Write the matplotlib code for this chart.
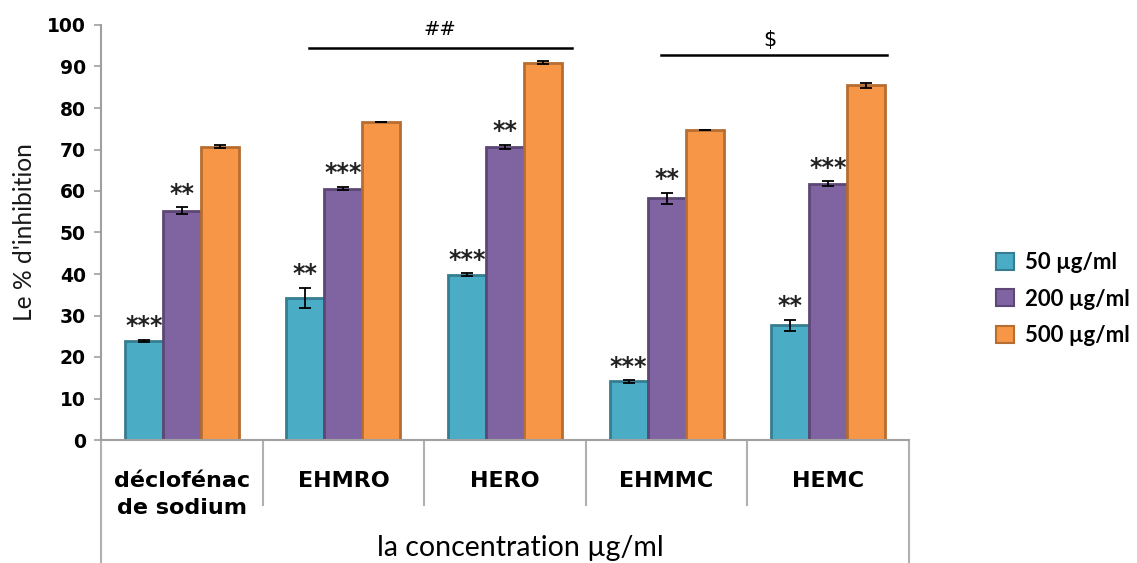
import matplotlib
matplotlib.use("Agg")
import matplotlib.pyplot as plt
import numpy as np
from matplotlib.patches import Patch
from matplotlib.lines import Line2D

categories = ["déclofénac\nde sodium", "EHMRO", "HERO", "EHMMC", "HEMC"]
series_names = ["50 µg/ml", "200 µg/ml", "500 µg/ml"]
v50 = [23.9, 34.3, 39.8, 14.1, 27.6]
v200 = [55.3, 60.6, 70.7, 58.2, 61.8]
v500 = [70.7, 76.6, 90.9, 74.7, 85.5]
e50 = [0.3, 2.4, 0.4, 0.3, 1.4]
e200 = [0.8, 0.4, 0.5, 1.4, 0.5]
e500 = [0.3, 0.0, 0.4, 0.1, 0.6]
s50 = ["***", "**", "***", "***", "**"]
s200 = ["**", "***", "**", "**", "***"]
s500 = ["", "", "", "", ""]
yticks = [0, 10, 20, 30, 40, 50, 60, 70, 80, 90, 100]

faces = ["#4BACC6", "#8064A2", "#F79646"]
edges = ["#357D91", "#5C4776", "#B66D31"]

fig = plt.figure(figsize=(11.37, 5.63), dpi=100)
ax = fig.add_axes([101/1137, 1-440/563, 808/1137, 415/563])

x = np.arange(len(categories))
w = 0.235
vals = [v50, v200, v500]
errs = [e50, e200, e500]
stars = [s50, s200, s500]
for i in range(3):
    xs = x + (i-1)*w
    ax.bar(xs, vals[i], w, color=faces[i], edgecolor=edges[i], linewidth=2.0, zorder=2)
    ax.errorbar(xs, vals[i], yerr=errs[i], fmt='none', ecolor='black',
                elinewidth=1.3, capsize=4, capthick=1.3, zorder=3)
    for xx, v, e, s in zip(xs, vals[i], errs[i], stars[i]):
        if s:
            ax.annotate(s, (xx, v+e), xytext=(0, 1), textcoords='offset points',
                        ha='center', va='bottom', fontsize=17, fontweight='bold',
                        color='#222222')

ax.set_xlim(-0.5, len(categories)-0.5)
ax.set_ylim(0, 100)
ax.set_yticks(yticks)
ax.set_yticklabels([str(t) for t in yticks], fontsize=13.5, fontweight='bold',
                   family='DejaVu Sans')
ax.tick_params(axis='y', length=5, color='#A0A0A0', width=1.2, pad=6)
ax.set_xticks(x)
ax.set_xticklabels(categories, fontsize=16, fontweight='bold', family='DejaVu Sans',
                   linespacing=1.45)
ax.tick_params(axis='x', length=0, pad=22)
for sp in ['top', 'right']:
    ax.spines[sp].set_visible(False)
for sp in ['left', 'bottom']:
    ax.spines[sp].set_color('#A0A0A0')
    ax.spines[sp].set_linewidth(1.5)

trans = ax.get_xaxis_transform()
for b in np.arange(len(categories)+1) - 0.5:
    ybot = -0.296 if b in (-0.5, len(categories)-0.5) else -0.157
    ax.add_line(Line2D([b, b], [0, ybot], transform=trans, color='#B0B0B0',
                       linewidth=1.5, clip_on=False))

# significance bars
ax.plot([0.787, 2.415], [94.5, 94.5], color='black', linewidth=1.8, clip_on=False)
ax.text(1.60, 98.8, "##", ha='center', va='center', fontsize=14, family='DejaVu Sans')
ax.plot([2.965, 4.364], [92.8, 92.8], color='black', linewidth=1.8, clip_on=False)
ax.text(3.64, 96.4, "$", ha='center', va='center', fontsize=15, family='DejaVu Sans')

fig.text(25/1137, 1-232/563, "Le % d'inhibition", rotation=90, ha='center', va='center',
         fontsize=17.7, family='Lato', color='#1a1a1a')
fig.text(520/1137, 1-548/563, "la concentration µg/ml", ha='center', va='center',
         fontsize=20.5, family='Lato', color='black')

handles = [Patch(facecolor=faces[i], edgecolor=edges[i], linewidth=1.5) for i in range(3)]
leg = fig.legend(handles, series_names, loc='center left', bbox_to_anchor=(996/1137, 1-299/563),
                 frameon=False, prop={'family': 'Lato', 'weight': 'bold', 'size': 16},
                 handlelength=0.8, handleheight=0.8, labelspacing=0.7, handletextpad=0.5,
                 borderpad=0, borderaxespad=0)

fig.savefig("out.png", dpi=100)
